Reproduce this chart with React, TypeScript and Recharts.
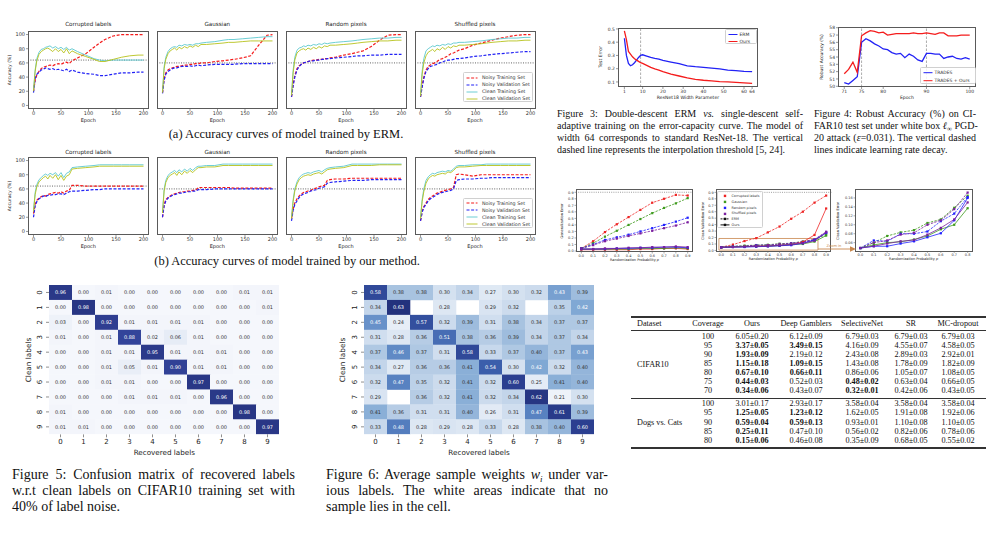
import React from "react";
import { LineChart, Line, XAxis, YAxis, ReferenceLine, ReferenceArea, ScatterChart, Scatter } from "recharts";

const SANS = "'DejaVu Sans', sans-serif";
const SERIF = "'Liberation Serif', 'Times New Roman', serif";

const RED = "#f41c1c";
const BLUE = "#2222f5";
const CYAN = "#5cc8cf";
const OLIVE = "#b7c21c";

// ---------- accuracy curves, (a) ERM and (b) ours ----------
const EPOCHS = [0, 3, 6, 10, 14, 18, 22, 26, 30, 35, 40, 45, 50, 55, 60, 65, 70, 80, 95, 110, 120, 130, 145, 160, 175, 190, 200];

const A_CL_NT = [20, 35, 43, 48, 52, 54, 55, 56, 57, 56, 58, 59, 58, 60, 61, 59, 63, 67, 73, 82, 88, 93, 98, 100, 100, 100, 100];
const A_CL_NV = [18, 38, 44, 47, 50, 51, 53, 52, 51, 52, 50, 51, 50, 49, 51, 48, 50, 47, 45, 44, 42, 42, 44, 46, 46, 47, 47];
const A_CL_CT = [22, 50, 66, 75, 79, 80, 82, 83, 84, 81, 83, 80, 82, 79, 82, 78, 80, 76, 71, 66, 64, 63, 64, 64, 64, 64, 64];
const A_CL_CV = [20, 48, 63, 72, 76, 78, 80, 81, 79, 76, 80, 76, 79, 74, 80, 73, 77, 73, 69, 65, 62, 62, 65, 68, 70, 71, 71];

const A_GA_NT = [18, 38, 46, 50, 52, 53, 54, 55, 55, 56, 57, 57, 58, 58, 59, 59, 60, 60, 62, 63, 64, 65, 67, 70, 85, 99, 100];
const A_GA_NV = [17, 36, 44, 48, 50, 52, 53, 53, 54, 55, 55, 55, 56, 55, 56, 57, 56, 57, 58, 58, 58, 58, 59, 59, 59, 59, 59];
const A_GA_CT = [20, 55, 68, 76, 80, 82, 83, 82, 85, 84, 86, 85, 86, 85, 87, 87, 88, 89, 90, 92, 93, 93, 94, 95, 96, 97, 97];
const A_GA_CV = [18, 52, 65, 73, 77, 79, 81, 78, 82, 80, 83, 81, 84, 82, 85, 83, 86, 86, 87, 88, 89, 89, 90, 91, 91, 91, 91];

const A_RP_NT = [12, 30, 42, 52, 56, 58, 60, 61, 62, 63, 64, 64, 65, 65, 66, 66, 67, 68, 71, 73, 75, 77, 83, 92, 99, 100, 100];
const A_RP_NV = [12, 28, 40, 50, 55, 58, 60, 61, 62, 63, 63, 64, 64, 65, 65, 66, 66, 67, 68, 69, 70, 70, 71, 71, 72, 72, 72];
const A_RP_CT = [15, 50, 68, 78, 81, 82, 84, 83, 85, 84, 86, 85, 87, 86, 88, 87, 88, 89, 90, 91, 92, 93, 94, 95, 95, 96, 96];
const A_RP_CV = [14, 46, 64, 74, 77, 79, 80, 78, 81, 79, 82, 80, 83, 81, 84, 83, 85, 85, 86, 87, 88, 89, 90, 91, 91, 92, 92];

const A_SP_NT = [12, 28, 40, 50, 55, 57, 59, 60, 62, 65, 66, 68, 70, 73, 74, 76, 78, 80, 85, 88, 90, 92, 95, 97, 99, 100, 100];
const A_SP_NV = [12, 26, 38, 48, 52, 55, 56, 57, 58, 60, 61, 63, 64, 64, 65, 66, 66, 67, 69, 70, 71, 72, 73, 74, 75, 76, 76];
const A_SP_CT = [14, 48, 66, 77, 80, 82, 84, 83, 85, 84, 86, 85, 87, 86, 88, 88, 89, 89, 90, 91, 92, 93, 94, 95, 95, 96, 96];
const A_SP_CV = [13, 44, 60, 70, 75, 77, 79, 76, 80, 78, 82, 79, 83, 81, 84, 83, 85, 85, 86, 87, 88, 89, 90, 91, 91, 92, 92];

const B_CL_NT = [25, 38, 44, 47, 49, 51, 50, 52, 53, 54, 55, 54, 56, 54, 57, 58, 65, 65, 64, 64, 64, 64, 64, 64, 64, 64, 64];
const B_CL_NV = [20, 36, 42, 46, 48, 50, 49, 51, 51, 52, 52, 53, 53, 52, 54, 56, 57, 57, 58, 59, 59, 60, 60, 60, 60, 60, 60];
const B_CL_CT = [30, 55, 66, 73, 76, 79, 81, 79, 82, 80, 83, 78, 83, 76, 82, 84, 90, 91, 92, 93, 94, 94, 94, 94, 94, 94, 94];
const B_CL_CV = [28, 52, 63, 70, 73, 76, 78, 74, 79, 75, 80, 73, 79, 72, 78, 80, 88, 89, 90, 91, 92, 92, 92, 92, 92, 92, 92];

const B_GA_NT = [20, 38, 45, 48, 50, 52, 53, 54, 55, 56, 56, 57, 57, 58, 58, 62, 62, 62, 62, 62, 62, 61, 61, 61, 61, 61, 61];
const B_GA_NV = [20, 36, 43, 47, 49, 51, 52, 53, 54, 54, 55, 56, 56, 57, 57, 59, 59, 59, 60, 60, 60, 60, 60, 60, 60, 60, 60];
const B_GA_CT = [28, 60, 72, 79, 82, 84, 86, 83, 87, 84, 88, 85, 89, 86, 90, 92, 92, 93, 93, 95, 95, 95, 95, 95, 95, 95, 95];
const B_GA_CV = [26, 57, 69, 76, 79, 81, 83, 79, 84, 80, 85, 82, 86, 83, 87, 90, 90, 91, 91, 93, 93, 93, 93, 93, 93, 93, 93];

const B_RP_NT = [18, 32, 40, 46, 50, 53, 55, 56, 57, 58, 60, 61, 63, 64, 65, 72, 73, 74, 74, 75, 75, 75, 75, 75, 75, 75, 75];
const B_RP_NV = [15, 30, 38, 43, 48, 51, 53, 54, 55, 57, 58, 59, 61, 62, 63, 68, 69, 70, 71, 72, 72, 72, 73, 73, 73, 73, 73];
const B_RP_CT = [20, 45, 60, 70, 76, 79, 81, 82, 83, 82, 84, 85, 86, 84, 87, 89, 90, 91, 92, 95, 95, 95, 95, 95, 95, 95, 95];
const B_RP_CV = [18, 42, 57, 67, 73, 76, 78, 79, 80, 79, 81, 82, 83, 81, 84, 87, 88, 89, 90, 93, 93, 93, 93, 94, 94, 94, 94];

const B_SP_NT = [15, 28, 35, 40, 45, 48, 50, 52, 54, 55, 57, 58, 59, 60, 62, 80, 81, 80, 78, 80, 80, 80, 80, 80, 80, 80, 80];
const B_SP_NV = [15, 27, 34, 38, 43, 46, 48, 50, 52, 54, 55, 56, 57, 58, 60, 72, 73, 74, 74, 75, 75, 76, 76, 76, 76, 76, 76];
const B_SP_CT = [20, 45, 60, 72, 77, 80, 82, 81, 83, 84, 85, 84, 86, 85, 88, 92, 93, 93, 94, 94, 95, 95, 95, 95, 95, 95, 95];
const B_SP_CV = [18, 42, 56, 68, 74, 77, 79, 78, 80, 81, 82, 81, 84, 83, 86, 90, 91, 91, 92, 93, 93, 93, 93, 93, 93, 93, 93];

// ---------- figure 3: double descent ----------
const WIDTHS = [1, 2, 3, 4, 5, 6, 7, 8, 9, 10, 12, 14, 16, 18, 20, 24, 28, 32, 36, 40, 44, 48, 52, 56, 60, 64];
const DD_ERM = [0.43, 0.3, 0.24, 0.222, 0.23, 0.245, 0.265, 0.285, 0.3, 0.305, 0.295, 0.285, 0.278, 0.272, 0.262, 0.25, 0.238, 0.222, 0.215, 0.21, 0.205, 0.198, 0.19, 0.185, 0.18, 0.178];
const DD_OURS = [0.485, 0.42, 0.33, 0.31, 0.29, 0.275, 0.265, 0.255, 0.245, 0.24, 0.225, 0.21, 0.198, 0.19, 0.178, 0.16, 0.145, 0.13, 0.12, 0.113, 0.108, 0.103, 0.1, 0.097, 0.093, 0.09];

// ---------- figure 4: robust accuracy ----------
const EP4 = [71, 72, 73, 74, 75, 76, 77, 78, 79, 80, 81, 82, 83, 84, 85, 86, 87, 88, 89, 90, 91, 92, 93, 94, 95, 96, 97, 98, 99, 100];
const RA_TRADES = [50.5, 50.3, 50.8, 51.3, 56.0, 56.5, 56.2, 55.8, 55.5, 55.1, 55.0, 54.6, 54.4, 54.5, 53.9, 54.4, 54.1, 53.6, 53.4, 54.5, 54.5, 54.4, 54.4, 53.8, 54.0, 54.1, 53.8, 53.7, 53.9, 53.7];
const RA_OURS = [51.7, 52.3, 53.3, 51.9, 56.9, 57.3, 57.6, 57.5, 57.3, 57.4, 57.0, 57.1, 57.2, 57.2, 57.2, 57.2, 57.3, 57.2, 57.2, 57.3, 57.2, 57.1, 57.3, 57.3, 56.9, 56.9, 56.9, 57.0, 57.0, 57.0];

// ---------- randomization probability charts ----------
const PROB = [0, 0.1, 0.2, 0.3, 0.4, 0.5, 0.6, 0.7, 0.8, 0.9];
const GE_ERM_CL = [0.04, 0.15, 0.29, 0.41, 0.52, 0.63, 0.74, 0.8, 0.86, 0.85];
const GE_ERM_GA = [0.04, 0.12, 0.22, 0.31, 0.4, 0.49, 0.58, 0.66, 0.73, 0.81];
const GE_ERM_RP = [0.04, 0.1, 0.17, 0.21, 0.25, 0.3, 0.35, 0.4, 0.45, 0.51];
const GE_ERM_SP = [0.04, 0.09, 0.15, 0.19, 0.23, 0.27, 0.31, 0.35, 0.39, 0.44];
const GE_OURS_CL = [0.02, 0.02, 0.02, 0.02, 0.02, 0.03, 0.03, 0.04, 0.04, 0.03];
const GE_OURS_GA = [0.03, 0.03, 0.03, 0.03, 0.03, 0.04, 0.04, 0.04, 0.05, 0.04];
const GE_OURS_RP = [0.03, 0.03, 0.03, 0.04, 0.04, 0.05, 0.05, 0.06, 0.06, 0.05];
const GE_OURS_SP = [0.03, 0.03, 0.04, 0.04, 0.05, 0.05, 0.06, 0.06, 0.07, 0.06];

const CV_ERM_CL = [0.05, 0.09, 0.145, 0.19, 0.28, 0.37, 0.49, 0.6, 0.74, 0.85];
const CV_OURS_CL = [0.05, 0.055, 0.06, 0.065, 0.07, 0.08, 0.09, 0.13, 0.24, 0.65];
const CV_ERM_GA = [0.048, 0.06, 0.075, 0.083, 0.088, 0.104, 0.112, 0.138, 0.165, 0.25];
const CV_OURS_GA = [0.048, 0.055, 0.06, 0.062, 0.067, 0.075, 0.09, 0.1, 0.137, 0.23];
const CV_ERM_RP = [0.048, 0.065, 0.063, 0.08, 0.08, 0.085, 0.108, 0.125, 0.162, 0.28];
const CV_OURS_RP = [0.048, 0.052, 0.052, 0.058, 0.063, 0.072, 0.081, 0.11, 0.16, 0.27];
const CV_ERM_SP = [0.048, 0.06, 0.065, 0.078, 0.082, 0.1, 0.11, 0.135, 0.172, 0.29];
const CV_OURS_SP = [0.048, 0.052, 0.058, 0.063, 0.066, 0.078, 0.093, 0.112, 0.15, 0.28];

const C_RED = "#ee2424";
const C_GREEN = "#3e9b1d";
const C_BLUE = "#2020ff";
const C_PURPLE = "#7b1fa0";

// ---------- heatmaps ----------
const CONF = [
  [0.96, 0.0, 0.01, 0.0, 0.0, 0.0, 0.0, 0.0, 0.01, 0.01],
  [0.0, 0.98, 0.0, 0.0, 0.0, 0.0, 0.0, 0.0, 0.0, 0.01],
  [0.03, 0.0, 0.92, 0.01, 0.01, 0.01, 0.01, 0.0, 0.0, 0.0],
  [0.01, 0.0, 0.01, 0.88, 0.02, 0.06, 0.01, 0.0, 0.0, 0.0],
  [0.0, 0.0, 0.01, 0.01, 0.95, 0.01, 0.01, 0.01, 0.0, 0.0],
  [0.0, 0.0, 0.01, 0.05, 0.01, 0.9, 0.01, 0.01, 0.0, 0.0],
  [0.0, 0.0, 0.01, 0.01, 0.0, 0.0, 0.97, 0.0, 0.0, 0.0],
  [0.0, 0.0, 0.0, 0.01, 0.01, 0.01, 0.0, 0.96, 0.0, 0.0],
  [0.01, 0.0, 0.0, 0.0, 0.0, 0.0, 0.0, 0.0, 0.98, 0.0],
  [0.01, 0.01, 0.0, 0.0, 0.0, 0.0, 0.0, 0.0, 0.0, 0.97],
];
const WEIGHTS = [
  [0.58, 0.38, 0.38, 0.3, 0.34, 0.27, 0.3, 0.32, 0.43, 0.39],
  [0.34, 0.63, null, 0.28, null, 0.29, 0.32, null, 0.35, 0.42],
  [0.45, 0.24, 0.57, 0.32, 0.39, 0.31, 0.38, 0.34, 0.37, 0.37],
  [0.31, 0.28, 0.36, 0.51, 0.38, 0.36, 0.39, 0.34, 0.37, 0.34],
  [0.37, 0.46, 0.37, 0.31, 0.58, 0.33, 0.37, 0.4, 0.37, 0.43],
  [0.34, 0.27, 0.36, 0.36, 0.41, 0.54, 0.3, 0.42, 0.32, 0.4],
  [0.32, 0.47, 0.35, 0.32, 0.41, 0.32, 0.6, 0.25, 0.41, 0.4],
  [0.29, null, 0.36, 0.32, 0.41, 0.32, 0.34, 0.62, 0.21, 0.3],
  [0.41, 0.36, 0.31, 0.31, 0.4, 0.26, 0.31, 0.47, 0.61, 0.39],
  [0.33, 0.48, 0.28, 0.29, 0.28, 0.33, 0.28, 0.38, 0.4, 0.6],
];
const DIGITS = [0, 1, 2, 3, 4, 5, 6, 7, 8, 9];

// ---------- table ----------
const TBL_HEAD = ["Dataset", "Coverage", "Ours", "Deep Gamblers", "SelectiveNet", "SR", "MC-dropout"];
const TBL_CIFAR = [
  ["100", "6.05±0.20", "6.12±0.09", "6.79±0.03", "6.79±0.03", "6.79±0.03"],
  ["95", "*3.37±0.05", "*3.49±0.15", "4.16±0.09", "4.55±0.07", "4.58±0.05"],
  ["90", "*1.93±0.09", "2.19±0.12", "2.43±0.08", "2.89±0.03", "2.92±0.01"],
  ["85", "*1.15±0.18", "*1.09±0.15", "1.43±0.08", "1.78±0.09", "1.82±0.09"],
  ["80", "*0.67±0.10", "*0.66±0.11", "0.86±0.06", "1.05±0.07", "1.08±0.05"],
  ["75", "*0.44±0.03", "0.52±0.03", "*0.48±0.02", "0.63±0.04", "0.66±0.05"],
  ["70", "*0.34±0.06", "0.43±0.07", "*0.32±0.01", "0.42±0.06", "0.43±0.05"],
];
const TBL_DOGS = [
  ["100", "3.01±0.17", "2.93±0.17", "3.58±0.04", "3.58±0.04", "3.58±0.04"],
  ["95", "*1.25±0.05", "*1.23±0.12", "1.62±0.05", "1.91±0.08", "1.92±0.06"],
  ["90", "*0.59±0.04", "*0.59±0.13", "0.93±0.01", "1.10±0.08", "1.10±0.05"],
  ["85", "*0.25±0.11", "0.47±0.10", "0.56±0.02", "0.82±0.06", "0.78±0.06"],
  ["80", "*0.15±0.06", "0.46±0.08", "0.35±0.09", "0.68±0.05", "0.55±0.02"],
];

// ---------- helpers ----------
function Txt({ x, y, size, children, rot = 0, family = SANS, color = "#222", weight = 400 }: any) {
  return (
    <div
      style={{
        position: "absolute", left: x, top: y, fontSize: size, fontFamily: family, color, fontWeight: weight,
        whiteSpace: "nowrap", lineHeight: 1, transform: `translate(-50%, -50%) rotate(${rot}deg)`,
      }}
    >
      {children}
    </div>
  );
}

function Caption({ x, y, w, size, lh, lines }: any) {
  return (
    <div style={{ position: "absolute", left: x, top: y, width: w, fontFamily: SERIF, fontSize: size, lineHeight: lh + "px", color: "#111" }}>
      {lines.map((l: any, i: number) => {
        const last = i === lines.length - 1;
        return (
          <div key={i} style={{ height: lh, whiteSpace: "nowrap", textAlign: last ? "left" : "justify", textAlignLast: last ? "left" : "justify" }}>
            {l}
          </div>
        );
      })}
    </div>
  );
}

function Sub({ children, size }: any) {
  return <span style={{ fontSize: size, position: "relative", top: size * 0.35, lineHeight: 0 }}>{children}</span>;
}

function Frame({ left, top, w, h }: any) {
  return (
    <div style={{ position: "absolute", left, top, width: w, height: h, border: "1px solid #5a5a5a", boxSizing: "border-box", pointerEvents: "none" }} />
  );
}

function lerpColor(stops: [number, string][], v: number) {
  if (v <= stops[0][0]) return stops[0][1];
  for (let i = 1; i < stops.length; i++) {
    if (v <= stops[i][0]) {
      const [a, ca] = stops[i - 1];
      const [b, cb] = stops[i];
      const t = (v - a) / (b - a);
      const pa = [1, 3, 5].map((k) => parseInt(ca.slice(k, k + 2), 16));
      const pb = [1, 3, 5].map((k) => parseInt(cb.slice(k, k + 2), 16));
      return `rgb(${pa.map((c, j) => Math.round(c + (pb[j] - c) * t)).join(",")})`;
    }
  }
  return stops[stops.length - 1][1];
}

const YW = 20, XH = 14, TP = 2, RP = 2;

// ---------- accuracy panel ----------
function AccPanel({ left, top, title, nt, nv, ct, cv, dotted, first, titleY, labelY }: any) {
  const w = 121, h = 78;
  const data = EPOCHS.map((e, i) => ({ e, nt: nt[i], nv: nv[i], ct: ct[i], cv: cv[i] }));
  return (
    <>
      <div style={{ position: "absolute", left: left - YW, top: top - TP }}>
        <LineChart width={YW + w + RP} height={TP + h + XH} data={data} margin={{ top: TP, right: RP, bottom: 0, left: 0 }}>
          <XAxis type="number" dataKey="e" domain={[-10, 210]} allowDataOverflow ticks={[0, 50, 100, 150, 200]} height={XH} interval={0}
            axisLine={false} tickSize={2} tickMargin={0.5} tickLine={{ stroke: "#555", strokeWidth: 0.6 }}
            tick={{ fontSize: 5, fill: "#333", fontFamily: SANS }} />
          <YAxis type="number" domain={[-5, 105]} allowDataOverflow ticks={[0, 20, 40, 60, 80, 100]} width={YW} interval={0}
            axisLine={false} tickSize={2} tickMargin={1} tickLine={{ stroke: "#555", strokeWidth: 0.6 }}
            tick={first ? { fontSize: 5, fill: "#333", fontFamily: SANS } : false} />
          <ReferenceLine y={dotted} stroke="#222" strokeWidth={0.7} strokeDasharray="1 1.4" />
          <Line type="linear" dataKey="nt" stroke={RED} strokeWidth={1.2} strokeDasharray="3 1.6" dot={false} isAnimationActive={false} />
          <Line type="linear" dataKey="nv" stroke={BLUE} strokeWidth={1.2} strokeDasharray="3 1.6" dot={false} isAnimationActive={false} />
          <Line type="linear" dataKey="ct" stroke={CYAN} strokeWidth={0.9} dot={false} isAnimationActive={false} />
          <Line type="linear" dataKey="cv" stroke={OLIVE} strokeWidth={0.9} dot={false} isAnimationActive={false} />
        </LineChart>
        <Frame left={YW} top={TP} w={w} h={h} />
      </div>
      <Txt x={left + w / 2} y={titleY} size={5.6}>{title}</Txt>
      <Txt x={left + w / 2} y={labelY} size={5}>Epoch</Txt>
      {first && <Txt x={10} y={top + h / 2} size={4.6} rot={-90}>Accuracy (%)</Txt>}
    </>
  );
}

function AccLegend({ left, top }: any) {
  const items = [
    ["Noisy Training Set", RED, "3 1.6", 1.2],
    ["Noisy Validation Set", BLUE, "3 1.6", 1.2],
    ["Clean Training Set", CYAN, "", 0.9],
    ["Clean Validation Set", OLIVE, "", 0.9],
  ];
  return (
    <div style={{ position: "absolute", left, top, width: 70, height: 30, border: "0.5px solid #d0d0d0", borderRadius: 1.5, background: "rgba(255,255,255,0.85)", boxSizing: "border-box" }}>
      {items.map(([label, color, dash, sw]: any, i) => (
        <div key={i} style={{ position: "absolute", left: 2, top: 1.5 + i * 7, height: 6, display: "flex", alignItems: "center" }}>
          <svg width={12} height={6}><line x1={0.5} y1={3} x2={11.5} y2={3} stroke={color} strokeWidth={sw} strokeDasharray={dash} /></svg>
          <span style={{ fontFamily: SANS, fontSize: 4.8, color: "#333", marginLeft: 4, whiteSpace: "nowrap" }}>{label}</span>
        </div>
      ))}
    </div>
  );
}

function SmallLegend({ left, top, w, h, items, rowH, fs }: any) {
  return (
    <div style={{ position: "absolute", left, top, width: w, height: h, border: "0.5px solid #d0d0d0", borderRadius: 1.5, background: "rgba(255,255,255,0.85)", boxSizing: "border-box" }}>
      {items.map(([label, color, dash, marker]: any, i: number) => (
        <div key={i} style={{ position: "absolute", left: 1.5, top: 1.2 + i * rowH, height: rowH, display: "flex", alignItems: "center" }}>
          <svg width={10} height={rowH}>
            {dash !== null && <line x1={0.5} y1={rowH / 2} x2={9.5} y2={rowH / 2} stroke={color} strokeWidth={1} strokeDasharray={dash} />}
            {marker && <rect x={3.8} y={rowH / 2 - 1.2} width={2.4} height={2.4} fill={color} />}
          </svg>
          <span style={{ fontFamily: SANS, fontSize: fs, color: "#333", marginLeft: 2, whiteSpace: "nowrap" }}>{label}</span>
        </div>
      ))}
    </div>
  );
}

// ---------- figure 3 ----------
function DoubleDescent() {
  const left = 617.6, top = 28, w = 140.5, h = 59;
  const data = WIDTHS.map((x, i) => ({ x, erm: DD_ERM[i], ours: DD_OURS[i] }));
  return (
    <>
      <div style={{ position: "absolute", left: left - YW, top: top - TP }}>
        <LineChart width={YW + w + RP} height={TP + h + XH} data={data} margin={{ top: TP, right: RP, bottom: 0, left: 0 }}>
          <XAxis type="number" dataKey="x" domain={[-2.15, 67.15]} allowDataOverflow ticks={[1, 10, 20, 30, 40, 50, 60, 64]} height={XH} interval={0}
            axisLine={false} tickSize={2} tickMargin={1} tickLine={{ stroke: "#555", strokeWidth: 0.6 }} tick={{ fontSize: 4.5, fill: "#333", fontFamily: SANS }} />
          <YAxis type="number" domain={[0.062, 0.507]} allowDataOverflow ticks={[0.1, 0.2, 0.3, 0.4, 0.5]} width={YW} interval={0}
            axisLine={false} tickSize={2} tickMargin={1} tickLine={{ stroke: "#555", strokeWidth: 0.6 }} tick={{ fontSize: 4.5, fill: "#333", fontFamily: SANS }} />
          <ReferenceLine x={9} stroke="#999" strokeWidth={0.8} strokeDasharray="2.5 1.5" />
          <Line type="linear" dataKey="erm" stroke={BLUE} strokeWidth={1.3} dot={false} isAnimationActive={false} />
          <Line type="linear" dataKey="ours" stroke={RED} strokeWidth={1.3} dot={false} isAnimationActive={false} />
        </LineChart>
        <Frame left={YW} top={TP} w={w} h={h} />
      </div>
      <Txt x={601} y={57} size={4.6} rot={-90}>Test Error</Txt>
      <Txt x={688} y={98} size={4.6}>ResNet18 Width Parameter</Txt>
      <SmallLegend left={725} top={29} w={32} h={15} rowH={7} fs={4.5}
        items={[["ERM", BLUE, "", false], ["Ours", RED, "", false]]} />
    </>
  );
}

// ---------- figure 4 ----------
function RobustAcc() {
  const left = 838, top = 27, w = 138, h = 60;
  const data = EP4.map((x, i) => ({ x, t: RA_TRADES[i], o: RA_OURS[i] }));
  return (
    <>
      <div style={{ position: "absolute", left: left - YW, top: top - TP }}>
        <LineChart width={YW + w + RP} height={TP + h + XH} data={data} margin={{ top: TP, right: RP, bottom: 0, left: 0 }}>
          <XAxis type="number" dataKey="x" domain={[69.55, 101.45]} allowDataOverflow ticks={[71, 75, 80, 90, 100]} height={XH} interval={0}
            axisLine={false} tickSize={2} tickMargin={1} tickLine={{ stroke: "#555", strokeWidth: 0.6 }} tick={{ fontSize: 4.5, fill: "#333", fontFamily: SANS }} />
          <YAxis type="number" domain={[49.9, 58.1]} allowDataOverflow ticks={[50, 51, 52, 53, 54, 55, 56, 57, 58]} width={YW} interval={0}
            axisLine={false} tickSize={2} tickMargin={1} tickLine={{ stroke: "#555", strokeWidth: 0.6 }} tick={{ fontSize: 4.5, fill: "#333", fontFamily: SANS }} />
          <ReferenceLine x={75} stroke="#999" strokeWidth={0.8} strokeDasharray="2.5 1.5" />
          <ReferenceLine x={90} stroke="#999" strokeWidth={0.8} strokeDasharray="2.5 1.5" />
          <Line type="linear" dataKey="t" stroke={BLUE} strokeWidth={1.3} dot={false} isAnimationActive={false} />
          <Line type="linear" dataKey="o" stroke={RED} strokeWidth={1.3} dot={false} isAnimationActive={false} />
        </LineChart>
        <Frame left={YW} top={TP} w={w} h={h} />
      </div>
      <Txt x={822} y={57} size={4.4} rot={-90}>Robust Accuracy (%)</Txt>
      <Txt x={907} y={98} size={4.6}>Epoch</Txt>
      <SmallLegend left={920} top={67} w={56} h={17} rowH={7.4} fs={4.5}
        items={[["TRADES", BLUE, "", false], ["TRADES + Ours", RED, "", false]]} />
    </>
  );
}

// ---------- randomization probability charts ----------
const sq = (color: string) => (p: any) =>
  p.cx == null ? <g key={p.index} /> : <rect key={p.index} x={p.cx - 1.1} y={p.cy - 1.1} width={2.2} height={2.2} fill={color} />;

function ProbChart({ left, top, w, h, xDomain, yDomain, yTicks, xTicks, series, dotted, yLabel, yLabelX, extra }: any) {
  const n = xTicks.length === 9 ? 9 : 10;
  const data = PROB.slice(0, n).map((p, i) => {
    const row: any = { p };
    series.forEach((s: any) => (row[s.key] = s.values[i]));
    return row;
  });
  const tk = { fontSize: 3.5, fill: "#333", fontFamily: SANS };
  return (
    <>
      <div style={{ position: "absolute", left: left - YW, top: top - TP }}>
        <LineChart width={YW + w + RP} height={TP + h + XH} data={data} margin={{ top: TP, right: RP, bottom: 0, left: 0 }}>
          <XAxis type="number" dataKey="p" domain={xDomain} allowDataOverflow ticks={xTicks} height={XH} interval={0}
            tickFormatter={(v: number) => v.toFixed(1)}
            axisLine={false} tickSize={1.5} tickMargin={0.8} tickLine={{ stroke: "#555", strokeWidth: 0.5 }} tick={tk} />
          <YAxis type="number" domain={yDomain} allowDataOverflow ticks={yTicks} width={YW} interval={0}
            tickFormatter={(v: number) => (yTicks[0] < 0.01 ? v.toFixed(1) : v.toFixed(2))}
            axisLine={false} tickSize={1.5} tickMargin={0.8} tickLine={{ stroke: "#555", strokeWidth: 0.5 }} tick={tk} />
          {dotted && <ReferenceLine y={0.9} stroke="#777" strokeWidth={0.7} strokeDasharray="1 1.2" />}
          {extra}
          {series.map((s: any) => (
            <Line key={s.key} type="linear" dataKey={s.key} stroke={s.color} strokeWidth={0.8}
              strokeDasharray={s.dashed ? "2.4 1.2" : undefined} dot={sq(s.color)} isAnimationActive={false} />
          ))}
        </LineChart>
        <Frame left={YW} top={TP} w={w} h={h} />
      </div>
      <Txt x={yLabelX} y={top + h / 2} size={3.5} rot={-90}>{yLabel}</Txt>
      <Txt x={left + w / 2} y={top + h + 8.5} size={3.5}>Randomization Probability <i>p</i></Txt>
    </>
  );
}

// ---------- heatmap ----------
function Heatmap({ left, top, matrix, stops, whiteAbove, yLabelX }: any) {
  const w = 230, h = 149.3;
  const cw = w / 10, ch = h / 10;
  const hx = 22, hb = 20;
  const data: any[] = [];
  matrix.forEach((row: any[], r: number) => row.forEach((v, c) => { if (v !== null) data.push({ x: c, y: r, v }); }));
  const cell = (p: any) => (
    <g key={`${p.payload.x}-${p.payload.y}`}>
      <rect x={p.cx - cw / 2} y={p.cy - ch / 2} width={cw + 0.3} height={ch + 0.3} fill={lerpColor(stops, p.payload.v)} />
      <text x={p.cx} y={p.cy} textAnchor="middle" dominantBaseline="central" fontSize={5} fontFamily={SANS}
        fill={p.payload.v >= whiteAbove ? "#ffffff" : "#333"}>{p.payload.v.toFixed(2)}</text>
    </g>
  );
  const rotTick = (p: any) => (
    <text x={p.x} y={p.y} transform={`rotate(-90 ${p.x} ${p.y})`} textAnchor="middle" fontSize={7} fontFamily={SANS} fill="#222">
      {p.payload.value}
    </text>
  );
  return (
    <>
      <div style={{ position: "absolute", left: left - hx, top: top - 1 }}>
        <ScatterChart width={hx + w + 2} height={1 + h + hb} margin={{ top: 1, right: 2, bottom: 0, left: 0 }}>
          <XAxis type="number" dataKey="x" domain={[-0.5, 9.5]} allowDataOverflow ticks={DIGITS} height={hb} interval={0}
            axisLine={false} tickSize={3} tickMargin={2.2} tickLine={{ stroke: "#444", strokeWidth: 0.6 }}
            tick={{ fontSize: 7, fill: "#222", fontFamily: SANS }} />
          <YAxis type="number" dataKey="y" domain={[-0.5, 9.5]} allowDataOverflow reversed ticks={DIGITS} width={hx} interval={0}
            axisLine={false} tickSize={3} tickMargin={4} tickLine={{ stroke: "#444", strokeWidth: 0.6 }} tick={rotTick} />
          <Scatter data={data} shape={cell} isAnimationActive={false} />
        </ScatterChart>
      </div>
      <Txt x={yLabelX} y={top + h / 2} size={7.3} rot={-90}>Clean labels</Txt>
      <Txt x={left + w / 2} y={453} size={7.2}>Recovered labels</Txt>
    </>
  );
}

const CONF_STOPS: [number, string][] = [[0, "#f5f7fc"], [0.06, "#e6ecf6"], [0.3, "#b3c8e4"], [0.6, "#6080bf"], [0.88, "#33449a"], [1, "#26337f"]];
const W_STOPS: [number, string][] = [
  [0.2, "#f0f4fa"], [0.28, "#dde7f3"], [0.34, "#c3d5ea"], [0.38, "#a8c3e0"], [0.42, "#80a8d4"],
  [0.47, "#5882c1"], [0.54, "#3b5eab"], [0.6, "#2b3f90"], [0.64, "#202d76"],
];

// ---------- table ----------
function ResultsTable() {
  const xs = [708, 752, 806, 862, 911, 958];
  const fs = 8.2;
  const cellTxt = (s: string, x: number, y: number, k: string) => {
    const bold = s.startsWith("*");
    return <Txt key={k} x={x} y={y} size={fs} family={SERIF} color="#111" weight={bold ? 700 : 400}>{bold ? s.slice(1) : s}</Txt>;
  };
  const rule = (y: number, t: number) => <div style={{ position: "absolute", left: 631, top: y - t / 2, width: 355, height: t, background: "#333" }} />;
  return (
    <>
      {rule(317, 1.3)}
      {rule(330, 0.6)}
      {rule(398, 0.6)}
      {rule(448, 1.3)}
      <div style={{ position: "absolute", left: 637, top: 324, transform: "translateY(-50%)", fontFamily: SERIF, fontSize: fs, color: "#111", lineHeight: 1 }}>{TBL_HEAD[0]}</div>
      {TBL_HEAD.slice(1).map((hd, i) => cellTxt(hd, xs[i], 324, "h" + i))}
      <div style={{ position: "absolute", left: 637, top: 364.5, transform: "translateY(-50%)", fontFamily: SERIF, fontSize: fs, color: "#111", lineHeight: 1 }}>CIFAR10</div>
      <div style={{ position: "absolute", left: 637, top: 422.5, transform: "translateY(-50%)", fontFamily: SERIF, fontSize: fs, color: "#111", lineHeight: 1 }}>Dogs vs. Cats</div>
      {TBL_CIFAR.map((row, r) => row.map((s, c) => cellTxt(s, xs[c], 337.3 + r * 8.94, `c${r}-${c}`)))}
      {TBL_DOGS.map((row, r) => row.map((s, c) => cellTxt(s, xs[c], 404 + r * 9.25, `d${r}-${c}`)))}
    </>
  );
}

export default function App() {
  const rowA = 30.5, rowB = 157;
  const lefts = [27.8, 156.8, 285.5, 414.5];
  const titles = ["Corrupted labels", "Gaussian", "Random pixels", "Shuffled pixels"];
  const aSeries = [
    [A_CL_NT, A_CL_NV, A_CL_CT, A_CL_CV],
    [A_GA_NT, A_GA_NV, A_GA_CT, A_GA_CV],
    [A_RP_NT, A_RP_NV, A_RP_CT, A_RP_CV],
    [A_SP_NT, A_SP_NV, A_SP_CT, A_SP_CV],
  ];
  const bSeries = [
    [B_CL_NT, B_CL_NV, B_CL_CT, B_CL_CV],
    [B_GA_NT, B_GA_NV, B_GA_CT, B_GA_CV],
    [B_RP_NT, B_RP_NV, B_RP_CT, B_RP_CV],
    [B_SP_NT, B_SP_NV, B_SP_CT, B_SP_CV],
  ];
  const dots = [64, 60, 60, 60];

  const geSeries = [
    { key: "ec", values: GE_ERM_CL, color: C_RED, dashed: true },
    { key: "eg", values: GE_ERM_GA, color: C_GREEN, dashed: true },
    { key: "er", values: GE_ERM_RP, color: C_BLUE, dashed: true },
    { key: "es", values: GE_ERM_SP, color: C_PURPLE, dashed: true },
    { key: "oc", values: GE_OURS_CL, color: C_RED, dashed: false },
    { key: "og", values: GE_OURS_GA, color: C_GREEN, dashed: false },
    { key: "or", values: GE_OURS_RP, color: C_BLUE, dashed: false },
    { key: "os", values: GE_OURS_SP, color: C_PURPLE, dashed: false },
  ];
  const cvSeries = [
    { key: "ec", values: CV_ERM_CL, color: C_RED, dashed: true },
    { key: "eg", values: CV_ERM_GA, color: C_GREEN, dashed: true },
    { key: "er", values: CV_ERM_RP, color: C_BLUE, dashed: true },
    { key: "es", values: CV_ERM_SP, color: C_PURPLE, dashed: true },
    { key: "oc", values: CV_OURS_CL, color: C_RED, dashed: false },
    { key: "og", values: CV_OURS_GA, color: C_GREEN, dashed: false },
    { key: "or", values: CV_OURS_RP, color: C_BLUE, dashed: false },
    { key: "os", values: CV_OURS_SP, color: C_PURPLE, dashed: false },
  ];
  const zoomSeries = cvSeries.filter((s) => s.key !== "ec" && s.key !== "oc");
  const BROWN = "#c8874c";

  return (
    <div style={{ position: "absolute", left: 0, top: 0, width: 1000, height: 539, background: "#fff", overflow: "hidden" }}>
      {lefts.map((l, i) => (
        <AccPanel key={"a" + i} left={l} top={rowA} title={titles[i]} nt={aSeries[i][0]} nv={aSeries[i][1]} ct={aSeries[i][2]} cv={aSeries[i][3]}
          dotted={dots[i]} first={i === 0} titleY={25} labelY={119.5} />
      ))}
      <AccLegend left={463} top={72} />
      <Txt x={286} y={134} size={12.5} family={SERIF} color="#111">(a) Accuracy curves of model trained by ERM.</Txt>

      {lefts.map((l, i) => (
        <AccPanel key={"b" + i} left={l} top={rowB} title={titles[i]} nt={bSeries[i][0]} nv={bSeries[i][1]} ct={bSeries[i][2]} cv={bSeries[i][3]}
          dotted={dots[i]} first={i === 0} titleY={152.5} labelY={246} />
      ))}
      <AccLegend left={463} top={197.5} />
      <Txt x={287} y={261} size={12.5} family={SERIF} color="#111">(b) Accuracy curves of model trained by our method.</Txt>

      <DoubleDescent />
      <Caption x={557} y={108} w={246} size={10} lh={12} lines={[
        <>Figure 3: Double-descent ERM <i>vs.</i> single-descent self-</>,
        "adaptive training on the error-capacity curve. The model of",
        "width 64 corresponds to standard ResNet-18. The vertical",
        "dashed line represents the interpolation threshold [5, 24].",
      ]} />

      <RobustAcc />
      <Caption x={814} y={108} w={162} size={10} lh={12} lines={[
        "Figure 4: Robust Accuracy (%) on CI-",
        <>FAR10 test set under white box <i>ℓ</i><Sub size={7}>∞</Sub> PGD-</>,
        <>20 attack (<i>ε</i>=0.031). The vertical dashed</>,
        "lines indicate learning rate decay.",
      ]} />

      <ProbChart left={576} top={189} w={117} h={63} xDomain={[-0.045, 0.945]} yDomain={[-0.015, 0.95]}
        xTicks={PROB} yTicks={[0, 0.1, 0.2, 0.3, 0.4, 0.5, 0.6, 0.7, 0.8, 0.9]} series={geSeries} dotted
        yLabel="Generalization Error" yLabelX={563} />
      <ProbChart left={715.6} top={189.3} w={115.4} h={62.4} xDomain={[-0.045, 0.945]} yDomain={[-0.015, 0.952]}
        xTicks={PROB} yTicks={[0, 0.1, 0.2, 0.3, 0.4, 0.5, 0.6, 0.7, 0.8, 0.9]} series={cvSeries} dotted
        yLabel="Clean Validation Error" yLabelX={704}
        extra={<ReferenceArea x1={-0.02} x2={0.83} y1={0.005} y2={0.185} fill="none" stroke={BROWN} strokeWidth={0.8} ifOverflow="visible" />} />
      <ProbChart left={854.6} top={189.3} w={118} h={62.4} xDomain={[-0.04, 0.84]} yDomain={[0.0405, 0.18]}
        xTicks={PROB.slice(0, 9)} yTicks={[0.06, 0.08, 0.1, 0.12, 0.14, 0.16]} series={zoomSeries}
        yLabel="Clean Validation Error" yLabelX={839} />
      <SmallLegend left={717} top={191} w={46} h={37} rowH={5.8} fs={3.4}
        items={[
          ["Corrupted labels", C_RED, null, true],
          ["Gaussian", C_GREEN, null, true],
          ["Random pixels", C_BLUE, null, true],
          ["Shuffled pixels", C_PURPLE, null, true],
          ["ERM", "#111", "2 1", true],
          ["Ours", "#111", "", true],
        ]} />
      <svg style={{ position: "absolute", left: 0, top: 0, pointerEvents: "none" }} width={1000} height={539}>
        <line x1={818} y1={249} x2={852} y2={249} stroke={BROWN} strokeWidth={0.9} />
        <polygon points="856,249 850,246.3 850,251.7" fill={BROWN} />
        <text x={834} y={246.5} fontSize={3.6} fontFamily={SANS} fill={BROWN} textAnchor="middle">Zoom in</text>
      </svg>

      <Heatmap left={49.3} top={285} matrix={CONF} stops={CONF_STOPS} whiteAbove={0.5} yLabelX={29} />
      <Caption x={12} y={467} w={283} size={14} lh={16} lines={[
        "Figure 5: Confusion matrix of recovered labels",
        "w.r.t clean labels on CIFAR10 training set with",
        "40% of label noise.",
      ]} />

      <Heatmap left={364} top={285} matrix={WEIGHTS} stops={W_STOPS} whiteAbove={0.42} yLabelX={343} />
      <Caption x={326} y={467} w={282} size={14} lh={16} lines={[
        <>Figure 6: Average sample weights <i>w</i><Sub size={9}><i>i</i></Sub> under var-</>,
        "ious labels.  The white areas indicate that no",
        "sample lies in the cell.",
      ]} />

      <ResultsTable />
    </div>
  );
}
